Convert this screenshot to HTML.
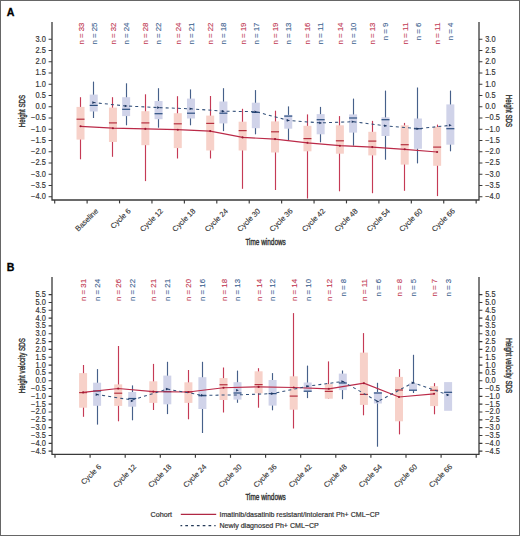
<!DOCTYPE html>
<html><head><meta charset="utf-8"><style>
html,body{margin:0;padding:0;background:#fff;}
body{width:520px;height:536px;overflow:hidden;}
svg{display:block;font-family:"Liberation Sans",sans-serif;}
.tk{font-size:7.45px;fill:#333333;stroke:#333333;stroke-width:0.15px;}
.xl{font-size:7.5px;fill:#333333;stroke:#333333;stroke-width:0.12px;}
.nl{font-size:7px;stroke-width:0.12px;}
.at{font-size:9.2px;fill:#333333;stroke:#333333;stroke-width:0.4px;}
.lg{font-size:7.2px;fill:#333333;stroke:#333333;stroke-width:0.2px;}
</style></head><body>
<svg width="520" height="536" viewBox="0 0 520 536">
<rect x="0" y="0" width="520" height="536" fill="#fff"/>
<text x="6.8" y="15.9" font-size="10.6" font-weight="bold" fill="#000" stroke="#000" stroke-width="0.3">A</text>
<path d="M52,22.0 V200 H479 V22.0" fill="none" stroke="#3a3a3a" stroke-width="1.3"/>
<path d="M48.6,39.20 H52 M479,39.20 H482.4" stroke="#3a3a3a" stroke-width="1.15"/>
<text transform="translate(45.8,41.65) scale(1,1.1)" text-anchor="end" class="tk">3.0</text>
<text transform="translate(485.2,41.65) scale(1,1.1)" class="tk">3.0</text>
<path d="M48.6,50.45 H52 M479,50.45 H482.4" stroke="#3a3a3a" stroke-width="1.15"/>
<text transform="translate(45.8,52.90) scale(1,1.1)" text-anchor="end" class="tk">2.5</text>
<text transform="translate(485.2,52.90) scale(1,1.1)" class="tk">2.5</text>
<path d="M48.6,61.70 H52 M479,61.70 H482.4" stroke="#3a3a3a" stroke-width="1.15"/>
<text transform="translate(45.8,64.15) scale(1,1.1)" text-anchor="end" class="tk">2.0</text>
<text transform="translate(485.2,64.15) scale(1,1.1)" class="tk">2.0</text>
<path d="M48.6,72.95 H52 M479,72.95 H482.4" stroke="#3a3a3a" stroke-width="1.15"/>
<text transform="translate(45.8,75.40) scale(1,1.1)" text-anchor="end" class="tk">1.5</text>
<text transform="translate(485.2,75.40) scale(1,1.1)" class="tk">1.5</text>
<path d="M48.6,84.20 H52 M479,84.20 H482.4" stroke="#3a3a3a" stroke-width="1.15"/>
<text transform="translate(45.8,86.65) scale(1,1.1)" text-anchor="end" class="tk">1.0</text>
<text transform="translate(485.2,86.65) scale(1,1.1)" class="tk">1.0</text>
<path d="M48.6,95.45 H52 M479,95.45 H482.4" stroke="#3a3a3a" stroke-width="1.15"/>
<text transform="translate(45.8,97.90) scale(1,1.1)" text-anchor="end" class="tk">0.5</text>
<text transform="translate(485.2,97.90) scale(1,1.1)" class="tk">0.5</text>
<path d="M48.6,106.70 H52 M479,106.70 H482.4" stroke="#3a3a3a" stroke-width="1.15"/>
<text transform="translate(45.8,109.15) scale(1,1.1)" text-anchor="end" class="tk">0.0</text>
<text transform="translate(485.2,109.15) scale(1,1.1)" class="tk">0.0</text>
<path d="M48.6,117.95 H52 M479,117.95 H482.4" stroke="#3a3a3a" stroke-width="1.15"/>
<text transform="translate(45.8,120.40) scale(1,1.1)" text-anchor="end" class="tk">−0.5</text>
<text transform="translate(485.2,120.40) scale(1,1.1)" class="tk">−0.5</text>
<path d="M48.6,129.20 H52 M479,129.20 H482.4" stroke="#3a3a3a" stroke-width="1.15"/>
<text transform="translate(45.8,131.65) scale(1,1.1)" text-anchor="end" class="tk">−1.0</text>
<text transform="translate(485.2,131.65) scale(1,1.1)" class="tk">−1.0</text>
<path d="M48.6,140.45 H52 M479,140.45 H482.4" stroke="#3a3a3a" stroke-width="1.15"/>
<text transform="translate(45.8,142.90) scale(1,1.1)" text-anchor="end" class="tk">−1.5</text>
<text transform="translate(485.2,142.90) scale(1,1.1)" class="tk">−1.5</text>
<path d="M48.6,151.70 H52 M479,151.70 H482.4" stroke="#3a3a3a" stroke-width="1.15"/>
<text transform="translate(45.8,154.15) scale(1,1.1)" text-anchor="end" class="tk">−2.0</text>
<text transform="translate(485.2,154.15) scale(1,1.1)" class="tk">−2.0</text>
<path d="M48.6,162.95 H52 M479,162.95 H482.4" stroke="#3a3a3a" stroke-width="1.15"/>
<text transform="translate(45.8,165.40) scale(1,1.1)" text-anchor="end" class="tk">−2.5</text>
<text transform="translate(485.2,165.40) scale(1,1.1)" class="tk">−2.5</text>
<path d="M48.6,174.20 H52 M479,174.20 H482.4" stroke="#3a3a3a" stroke-width="1.15"/>
<text transform="translate(45.8,176.65) scale(1,1.1)" text-anchor="end" class="tk">−3.0</text>
<text transform="translate(485.2,176.65) scale(1,1.1)" class="tk">−3.0</text>
<path d="M48.6,185.45 H52 M479,185.45 H482.4" stroke="#3a3a3a" stroke-width="1.15"/>
<text transform="translate(45.8,187.90) scale(1,1.1)" text-anchor="end" class="tk">−3.5</text>
<text transform="translate(485.2,187.90) scale(1,1.1)" class="tk">−3.5</text>
<path d="M48.6,196.70 H52 M479,196.70 H482.4" stroke="#3a3a3a" stroke-width="1.15"/>
<text transform="translate(45.8,199.15) scale(1,1.1)" text-anchor="end" class="tk">−4.0</text>
<text transform="translate(485.2,199.15) scale(1,1.1)" class="tk">−4.0</text>
<path d="M54.70,200 V203.4" stroke="#3a3a3a" stroke-width="1.15"/>
<path d="M87.12,200 V203.4" stroke="#3a3a3a" stroke-width="1.15"/>
<path d="M119.54,200 V203.4" stroke="#3a3a3a" stroke-width="1.15"/>
<path d="M151.96,200 V203.4" stroke="#3a3a3a" stroke-width="1.15"/>
<path d="M184.38,200 V203.4" stroke="#3a3a3a" stroke-width="1.15"/>
<path d="M216.80,200 V203.4" stroke="#3a3a3a" stroke-width="1.15"/>
<path d="M249.22,200 V203.4" stroke="#3a3a3a" stroke-width="1.15"/>
<path d="M281.64,200 V203.4" stroke="#3a3a3a" stroke-width="1.15"/>
<path d="M314.06,200 V203.4" stroke="#3a3a3a" stroke-width="1.15"/>
<path d="M346.48,200 V203.4" stroke="#3a3a3a" stroke-width="1.15"/>
<path d="M378.90,200 V203.4" stroke="#3a3a3a" stroke-width="1.15"/>
<path d="M411.32,200 V203.4" stroke="#3a3a3a" stroke-width="1.15"/>
<path d="M443.74,200 V203.4" stroke="#3a3a3a" stroke-width="1.15"/>
<path d="M476.16,200 V203.4" stroke="#3a3a3a" stroke-width="1.15"/>
<text transform="translate(98.72,211.5) rotate(-45)" text-anchor="end" class="xl">Baseline</text>
<text transform="translate(131.14,211.5) rotate(-45)" text-anchor="end" class="xl">Cycle 6</text>
<text transform="translate(163.56,211.5) rotate(-45)" text-anchor="end" class="xl">Cycle 12</text>
<text transform="translate(195.98,211.5) rotate(-45)" text-anchor="end" class="xl">Cycle 18</text>
<text transform="translate(228.40,211.5) rotate(-45)" text-anchor="end" class="xl">Cycle 24</text>
<text transform="translate(260.82,211.5) rotate(-45)" text-anchor="end" class="xl">Cycle 30</text>
<text transform="translate(293.24,211.5) rotate(-45)" text-anchor="end" class="xl">Cycle 36</text>
<text transform="translate(325.66,211.5) rotate(-45)" text-anchor="end" class="xl">Cycle 42</text>
<text transform="translate(358.08,211.5) rotate(-45)" text-anchor="end" class="xl">Cycle 48</text>
<text transform="translate(390.50,211.5) rotate(-45)" text-anchor="end" class="xl">Cycle 54</text>
<text transform="translate(422.92,211.5) rotate(-45)" text-anchor="end" class="xl">Cycle 60</text>
<text transform="translate(455.34,211.5) rotate(-45)" text-anchor="end" class="xl">Cycle 66</text>
<path d="M80.50,97.2 V159.3" stroke="#c53a55" stroke-width="1.15"/>
<rect x="76.52" y="106.9" width="8.0" height="32.70" fill="#f7d1c9"/>
<path d="M76.52,119.2 h8.0" stroke="#b5303f" stroke-width="1.2"/>
<path d="M93.50,81.6 V118.0" stroke="#46608a" stroke-width="1.15"/>
<rect x="89.72" y="94.6" width="8.0" height="16.90" fill="#d0d3e9"/>
<path d="M89.72,105.4 h8.0" stroke="#2c4f80" stroke-width="1.2"/>
<path d="M112.50,97.2 V156.8" stroke="#c53a55" stroke-width="1.15"/>
<rect x="108.94" y="107.6" width="8.0" height="34.40" fill="#f7d1c9"/>
<path d="M108.94,122.9 h8.0" stroke="#b5303f" stroke-width="1.2"/>
<path d="M126.50,83.3 V125.3" stroke="#46608a" stroke-width="1.15"/>
<rect x="122.14" y="97.2" width="8.0" height="18.90" fill="#d0d3e9"/>
<path d="M122.14,109.3 h8.0" stroke="#2c4f80" stroke-width="1.2"/>
<path d="M145.50,94.3 V181.1" stroke="#c53a55" stroke-width="1.15"/>
<rect x="141.36" y="111.2" width="8.0" height="34.00" fill="#f7d1c9"/>
<path d="M141.36,122.9 h8.0" stroke="#b5303f" stroke-width="1.2"/>
<path d="M158.50,88.2 V127.7" stroke="#46608a" stroke-width="1.15"/>
<rect x="154.56" y="101.0" width="8.0" height="18.20" fill="#d0d3e9"/>
<path d="M154.56,113.7 h8.0" stroke="#2c4f80" stroke-width="1.2"/>
<path d="M177.50,96.2 V158.5" stroke="#c53a55" stroke-width="1.15"/>
<rect x="173.78" y="113.2" width="8.0" height="34.90" fill="#f7d1c9"/>
<path d="M173.78,123.8 h8.0" stroke="#b5303f" stroke-width="1.2"/>
<path d="M190.50,89.4 V125.3" stroke="#46608a" stroke-width="1.15"/>
<rect x="186.98" y="98.6" width="8.0" height="19.90" fill="#d0d3e9"/>
<path d="M186.98,113.2 h8.0" stroke="#2c4f80" stroke-width="1.2"/>
<path d="M210.50,96.0 V158.5" stroke="#c53a55" stroke-width="1.15"/>
<rect x="206.20" y="115.6" width="8.0" height="34.90" fill="#f7d1c9"/>
<path d="M206.20,123.4 h8.0" stroke="#b5303f" stroke-width="1.2"/>
<path d="M223.50,88.2 V131.1" stroke="#46608a" stroke-width="1.15"/>
<rect x="219.40" y="101.5" width="8.0" height="21.90" fill="#d0d3e9"/>
<path d="M219.40,113.2 h8.0" stroke="#2c4f80" stroke-width="1.2"/>
<path d="M242.50,108.8 V188.8" stroke="#c53a55" stroke-width="1.15"/>
<rect x="238.62" y="121.7" width="8.0" height="28.80" fill="#f7d1c9"/>
<path d="M238.62,130.6 h8.0" stroke="#b5303f" stroke-width="1.2"/>
<path d="M255.50,90.1 V134.3" stroke="#46608a" stroke-width="1.15"/>
<rect x="251.82" y="102.7" width="8.0" height="25.50" fill="#d0d3e9"/>
<path d="M251.82,112.4 h8.0" stroke="#2c4f80" stroke-width="1.2"/>
<path d="M275.50,110.7 V190.0" stroke="#c53a55" stroke-width="1.15"/>
<rect x="271.04" y="121.4" width="8.0" height="31.10" fill="#f7d1c9"/>
<path d="M271.04,131.8 h8.0" stroke="#b5303f" stroke-width="1.2"/>
<path d="M288.50,106.4 V140.3" stroke="#46608a" stroke-width="1.15"/>
<rect x="284.24" y="114.9" width="8.0" height="13.80" fill="#d0d3e9"/>
<path d="M284.24,116.1 h8.0" stroke="#2c4f80" stroke-width="1.2"/>
<path d="M307.50,114.4 V198.5" stroke="#c53a55" stroke-width="1.15"/>
<rect x="303.46" y="125.8" width="8.0" height="25.50" fill="#f7d1c9"/>
<path d="M303.46,138.6 h8.0" stroke="#b5303f" stroke-width="1.2"/>
<path d="M320.50,106.9 V142.3" stroke="#46608a" stroke-width="1.15"/>
<rect x="316.66" y="114.1" width="8.0" height="20.20" fill="#d0d3e9"/>
<path d="M316.66,119.7 h8.0" stroke="#2c4f80" stroke-width="1.2"/>
<path d="M339.50,116.1 V191.3" stroke="#c53a55" stroke-width="1.15"/>
<rect x="335.88" y="125.3" width="8.0" height="28.40" fill="#f7d1c9"/>
<path d="M335.88,140.8 h8.0" stroke="#b5303f" stroke-width="1.2"/>
<path d="M353.50,98.6 V145.7" stroke="#46608a" stroke-width="1.15"/>
<rect x="349.08" y="114.4" width="8.0" height="18.20" fill="#d0d3e9"/>
<path d="M349.08,118.0 h8.0" stroke="#2c4f80" stroke-width="1.2"/>
<path d="M372.50,120.9 V193.2" stroke="#c53a55" stroke-width="1.15"/>
<rect x="368.30" y="131.8" width="8.0" height="23.60" fill="#f7d1c9"/>
<path d="M368.30,141.1 h8.0" stroke="#b5303f" stroke-width="1.2"/>
<path d="M385.50,90.6 V159.7" stroke="#46608a" stroke-width="1.15"/>
<rect x="381.50" y="117.3" width="8.0" height="18.70" fill="#d0d3e9"/>
<path d="M381.50,119.7 h8.0" stroke="#2c4f80" stroke-width="1.2"/>
<path d="M404.50,122.9 V190.8" stroke="#c53a55" stroke-width="1.15"/>
<rect x="400.72" y="125.3" width="8.0" height="39.30" fill="#f7d1c9"/>
<path d="M400.72,144.7 h8.0" stroke="#b5303f" stroke-width="1.2"/>
<path d="M417.50,87.5 V163.4" stroke="#46608a" stroke-width="1.15"/>
<rect x="413.92" y="118.5" width="8.0" height="30.30" fill="#d0d3e9"/>
<path d="M413.92,128.7 h8.0" stroke="#2c4f80" stroke-width="1.2"/>
<path d="M437.50,124.6 V196.1" stroke="#c53a55" stroke-width="1.15"/>
<rect x="433.14" y="127.0" width="8.0" height="38.80" fill="#f7d1c9"/>
<path d="M433.14,147.1 h8.0" stroke="#b5303f" stroke-width="1.2"/>
<path d="M450.50,90.6 V151.3" stroke="#46608a" stroke-width="1.15"/>
<rect x="446.34" y="104.4" width="8.0" height="40.30" fill="#d0d3e9"/>
<path d="M446.34,128.7 h8.0" stroke="#2c4f80" stroke-width="1.2"/>
<polyline points="80.52,126.30 112.94,128.20 145.36,128.90 177.78,129.70 210.20,131.10 242.62,137.40 275.04,139.10 307.46,142.80 339.88,145.70 372.30,147.10 404.72,149.30 437.14,152.00" fill="none" stroke="#bb2a48" stroke-width="1.2"/>
<polyline points="93.72,102.60 126.14,106.00 158.56,107.60 190.98,108.80 223.40,111.20 255.82,111.70 288.24,120.40 320.66,122.90 353.08,121.70 385.50,125.80 417.92,128.70 450.34,125.30" fill="none" stroke="#33507a" stroke-width="1.05" stroke-dasharray="3 3.1" stroke-dashoffset="1"/>
<circle cx="80.52" cy="126.3" r="1.05" fill="#a01830"/>
<circle cx="112.94" cy="128.2" r="1.05" fill="#a01830"/>
<circle cx="145.36" cy="128.9" r="1.05" fill="#a01830"/>
<circle cx="177.78" cy="129.7" r="1.05" fill="#a01830"/>
<circle cx="210.20" cy="131.1" r="1.05" fill="#a01830"/>
<circle cx="242.62" cy="137.4" r="1.05" fill="#a01830"/>
<circle cx="275.04" cy="139.1" r="1.05" fill="#a01830"/>
<circle cx="307.46" cy="142.8" r="1.05" fill="#a01830"/>
<circle cx="339.88" cy="145.7" r="1.05" fill="#a01830"/>
<circle cx="372.30" cy="147.1" r="1.05" fill="#a01830"/>
<circle cx="404.72" cy="149.3" r="1.05" fill="#a01830"/>
<circle cx="437.14" cy="152.0" r="1.05" fill="#a01830"/>
<path d="M92.32,101.30 l2.8,1.3 l-2.8,1.3z" fill="#1c3560"/>
<path d="M124.74,104.70 l2.8,1.3 l-2.8,1.3z" fill="#1c3560"/>
<path d="M157.16,106.30 l2.8,1.3 l-2.8,1.3z" fill="#1c3560"/>
<path d="M189.58,107.50 l2.8,1.3 l-2.8,1.3z" fill="#1c3560"/>
<path d="M222.00,109.90 l2.8,1.3 l-2.8,1.3z" fill="#1c3560"/>
<path d="M254.42,110.40 l2.8,1.3 l-2.8,1.3z" fill="#1c3560"/>
<path d="M286.84,119.10 l2.8,1.3 l-2.8,1.3z" fill="#1c3560"/>
<path d="M319.26,121.60 l2.8,1.3 l-2.8,1.3z" fill="#1c3560"/>
<path d="M351.68,120.40 l2.8,1.3 l-2.8,1.3z" fill="#1c3560"/>
<path d="M384.10,124.50 l2.8,1.3 l-2.8,1.3z" fill="#1c3560"/>
<path d="M416.52,127.40 l2.8,1.3 l-2.8,1.3z" fill="#1c3560"/>
<path d="M448.94,124.00 l2.8,1.3 l-2.8,1.3z" fill="#1c3560"/>
<text transform="translate(83.52,22.6) rotate(-90)" text-anchor="end" class="nl" fill="#c23a55" stroke="#c23a55" textLength="22.0" lengthAdjust="spacingAndGlyphs">n = 33</text>
<text transform="translate(96.52,22.6) rotate(-90)" text-anchor="end" class="nl" fill="#3f6491" stroke="#3f6491" textLength="22.0" lengthAdjust="spacingAndGlyphs">n = 25</text>
<text transform="translate(115.94,22.6) rotate(-90)" text-anchor="end" class="nl" fill="#c23a55" stroke="#c23a55" textLength="22.0" lengthAdjust="spacingAndGlyphs">n = 32</text>
<text transform="translate(128.94,22.6) rotate(-90)" text-anchor="end" class="nl" fill="#3f6491" stroke="#3f6491" textLength="22.0" lengthAdjust="spacingAndGlyphs">n = 24</text>
<text transform="translate(148.36,22.6) rotate(-90)" text-anchor="end" class="nl" fill="#c23a55" stroke="#c23a55" textLength="22.0" lengthAdjust="spacingAndGlyphs">n = 28</text>
<text transform="translate(161.36,22.6) rotate(-90)" text-anchor="end" class="nl" fill="#3f6491" stroke="#3f6491" textLength="22.0" lengthAdjust="spacingAndGlyphs">n = 22</text>
<text transform="translate(180.78,22.6) rotate(-90)" text-anchor="end" class="nl" fill="#c23a55" stroke="#c23a55" textLength="22.0" lengthAdjust="spacingAndGlyphs">n = 24</text>
<text transform="translate(193.78,22.6) rotate(-90)" text-anchor="end" class="nl" fill="#3f6491" stroke="#3f6491" textLength="22.0" lengthAdjust="spacingAndGlyphs">n = 21</text>
<text transform="translate(213.20,22.6) rotate(-90)" text-anchor="end" class="nl" fill="#c23a55" stroke="#c23a55" textLength="22.0" lengthAdjust="spacingAndGlyphs">n = 22</text>
<text transform="translate(226.20,22.6) rotate(-90)" text-anchor="end" class="nl" fill="#3f6491" stroke="#3f6491" textLength="22.0" lengthAdjust="spacingAndGlyphs">n = 18</text>
<text transform="translate(245.62,22.6) rotate(-90)" text-anchor="end" class="nl" fill="#c23a55" stroke="#c23a55" textLength="22.0" lengthAdjust="spacingAndGlyphs">n = 19</text>
<text transform="translate(258.62,22.6) rotate(-90)" text-anchor="end" class="nl" fill="#3f6491" stroke="#3f6491" textLength="22.0" lengthAdjust="spacingAndGlyphs">n = 17</text>
<text transform="translate(278.04,22.6) rotate(-90)" text-anchor="end" class="nl" fill="#c23a55" stroke="#c23a55" textLength="22.0" lengthAdjust="spacingAndGlyphs">n = 19</text>
<text transform="translate(291.04,22.6) rotate(-90)" text-anchor="end" class="nl" fill="#3f6491" stroke="#3f6491" textLength="22.0" lengthAdjust="spacingAndGlyphs">n = 13</text>
<text transform="translate(310.46,22.6) rotate(-90)" text-anchor="end" class="nl" fill="#c23a55" stroke="#c23a55" textLength="22.0" lengthAdjust="spacingAndGlyphs">n = 16</text>
<text transform="translate(323.46,22.6) rotate(-90)" text-anchor="end" class="nl" fill="#3f6491" stroke="#3f6491" textLength="22.0" lengthAdjust="spacingAndGlyphs">n = 11</text>
<text transform="translate(342.88,22.6) rotate(-90)" text-anchor="end" class="nl" fill="#c23a55" stroke="#c23a55" textLength="22.0" lengthAdjust="spacingAndGlyphs">n = 14</text>
<text transform="translate(355.88,22.6) rotate(-90)" text-anchor="end" class="nl" fill="#3f6491" stroke="#3f6491" textLength="22.0" lengthAdjust="spacingAndGlyphs">n = 10</text>
<text transform="translate(375.30,22.6) rotate(-90)" text-anchor="end" class="nl" fill="#c23a55" stroke="#c23a55" textLength="22.0" lengthAdjust="spacingAndGlyphs">n = 13</text>
<text transform="translate(388.30,22.6) rotate(-90)" text-anchor="end" class="nl" fill="#3f6491" stroke="#3f6491" textLength="17.6" lengthAdjust="spacingAndGlyphs">n = 9</text>
<text transform="translate(407.72,22.6) rotate(-90)" text-anchor="end" class="nl" fill="#c23a55" stroke="#c23a55" textLength="22.0" lengthAdjust="spacingAndGlyphs">n = 11</text>
<text transform="translate(420.72,22.6) rotate(-90)" text-anchor="end" class="nl" fill="#3f6491" stroke="#3f6491" textLength="17.6" lengthAdjust="spacingAndGlyphs">n = 6</text>
<text transform="translate(440.14,22.6) rotate(-90)" text-anchor="end" class="nl" fill="#c23a55" stroke="#c23a55" textLength="22.0" lengthAdjust="spacingAndGlyphs">n = 11</text>
<text transform="translate(453.14,22.6) rotate(-90)" text-anchor="end" class="nl" fill="#3f6491" stroke="#3f6491" textLength="17.6" lengthAdjust="spacingAndGlyphs">n = 4</text>
<text transform="translate(25.3,111.00) rotate(-90)" text-anchor="middle" class="at" textLength="32.3" lengthAdjust="spacingAndGlyphs">Height SDS</text>
<text transform="translate(505.6,111.00) rotate(90)" text-anchor="middle" class="at" textLength="32.3" lengthAdjust="spacingAndGlyphs">Height SDS</text>
<text x="265.6" y="244.7" text-anchor="middle" class="at" textLength="40.4" lengthAdjust="spacingAndGlyphs">Time windows</text>
<text x="6.8" y="271.3" font-size="10.6" font-weight="bold" fill="#000" stroke="#000" stroke-width="0.3">B</text>
<path d="M52,277.0 V454.4 H479 V277.0" fill="none" stroke="#3a3a3a" stroke-width="1.3"/>
<path d="M48.6,294.62 H52 M479,294.62 H482.4" stroke="#3a3a3a" stroke-width="1.15"/>
<text transform="translate(45.8,297.07) scale(1,1.1)" text-anchor="end" class="tk">5.5</text>
<text transform="translate(485.2,297.07) scale(1,1.1)" class="tk">5.5</text>
<path d="M48.6,302.45 H52 M479,302.45 H482.4" stroke="#3a3a3a" stroke-width="1.15"/>
<text transform="translate(45.8,304.90) scale(1,1.1)" text-anchor="end" class="tk">5.0</text>
<text transform="translate(485.2,304.90) scale(1,1.1)" class="tk">5.0</text>
<path d="M48.6,310.27 H52 M479,310.27 H482.4" stroke="#3a3a3a" stroke-width="1.15"/>
<text transform="translate(45.8,312.72) scale(1,1.1)" text-anchor="end" class="tk">4.5</text>
<text transform="translate(485.2,312.72) scale(1,1.1)" class="tk">4.5</text>
<path d="M48.6,318.10 H52 M479,318.10 H482.4" stroke="#3a3a3a" stroke-width="1.15"/>
<text transform="translate(45.8,320.55) scale(1,1.1)" text-anchor="end" class="tk">4.0</text>
<text transform="translate(485.2,320.55) scale(1,1.1)" class="tk">4.0</text>
<path d="M48.6,325.93 H52 M479,325.93 H482.4" stroke="#3a3a3a" stroke-width="1.15"/>
<text transform="translate(45.8,328.38) scale(1,1.1)" text-anchor="end" class="tk">3.5</text>
<text transform="translate(485.2,328.38) scale(1,1.1)" class="tk">3.5</text>
<path d="M48.6,333.75 H52 M479,333.75 H482.4" stroke="#3a3a3a" stroke-width="1.15"/>
<text transform="translate(45.8,336.20) scale(1,1.1)" text-anchor="end" class="tk">3.0</text>
<text transform="translate(485.2,336.20) scale(1,1.1)" class="tk">3.0</text>
<path d="M48.6,341.57 H52 M479,341.57 H482.4" stroke="#3a3a3a" stroke-width="1.15"/>
<text transform="translate(45.8,344.02) scale(1,1.1)" text-anchor="end" class="tk">2.5</text>
<text transform="translate(485.2,344.02) scale(1,1.1)" class="tk">2.5</text>
<path d="M48.6,349.40 H52 M479,349.40 H482.4" stroke="#3a3a3a" stroke-width="1.15"/>
<text transform="translate(45.8,351.85) scale(1,1.1)" text-anchor="end" class="tk">2.0</text>
<text transform="translate(485.2,351.85) scale(1,1.1)" class="tk">2.0</text>
<path d="M48.6,357.22 H52 M479,357.22 H482.4" stroke="#3a3a3a" stroke-width="1.15"/>
<text transform="translate(45.8,359.67) scale(1,1.1)" text-anchor="end" class="tk">1.5</text>
<text transform="translate(485.2,359.67) scale(1,1.1)" class="tk">1.5</text>
<path d="M48.6,365.05 H52 M479,365.05 H482.4" stroke="#3a3a3a" stroke-width="1.15"/>
<text transform="translate(45.8,367.50) scale(1,1.1)" text-anchor="end" class="tk">1.0</text>
<text transform="translate(485.2,367.50) scale(1,1.1)" class="tk">1.0</text>
<path d="M48.6,372.88 H52 M479,372.88 H482.4" stroke="#3a3a3a" stroke-width="1.15"/>
<text transform="translate(45.8,375.32) scale(1,1.1)" text-anchor="end" class="tk">0.5</text>
<text transform="translate(485.2,375.32) scale(1,1.1)" class="tk">0.5</text>
<path d="M48.6,380.70 H52 M479,380.70 H482.4" stroke="#3a3a3a" stroke-width="1.15"/>
<text transform="translate(45.8,383.15) scale(1,1.1)" text-anchor="end" class="tk">0.0</text>
<text transform="translate(485.2,383.15) scale(1,1.1)" class="tk">0.0</text>
<path d="M48.6,388.52 H52 M479,388.52 H482.4" stroke="#3a3a3a" stroke-width="1.15"/>
<text transform="translate(45.8,390.97) scale(1,1.1)" text-anchor="end" class="tk">−0.5</text>
<text transform="translate(485.2,390.97) scale(1,1.1)" class="tk">−0.5</text>
<path d="M48.6,396.35 H52 M479,396.35 H482.4" stroke="#3a3a3a" stroke-width="1.15"/>
<text transform="translate(45.8,398.80) scale(1,1.1)" text-anchor="end" class="tk">−1.0</text>
<text transform="translate(485.2,398.80) scale(1,1.1)" class="tk">−1.0</text>
<path d="M48.6,404.18 H52 M479,404.18 H482.4" stroke="#3a3a3a" stroke-width="1.15"/>
<text transform="translate(45.8,406.62) scale(1,1.1)" text-anchor="end" class="tk">−1.5</text>
<text transform="translate(485.2,406.62) scale(1,1.1)" class="tk">−1.5</text>
<path d="M48.6,412.00 H52 M479,412.00 H482.4" stroke="#3a3a3a" stroke-width="1.15"/>
<text transform="translate(45.8,414.45) scale(1,1.1)" text-anchor="end" class="tk">−2.0</text>
<text transform="translate(485.2,414.45) scale(1,1.1)" class="tk">−2.0</text>
<path d="M48.6,419.82 H52 M479,419.82 H482.4" stroke="#3a3a3a" stroke-width="1.15"/>
<text transform="translate(45.8,422.27) scale(1,1.1)" text-anchor="end" class="tk">−2.5</text>
<text transform="translate(485.2,422.27) scale(1,1.1)" class="tk">−2.5</text>
<path d="M48.6,427.65 H52 M479,427.65 H482.4" stroke="#3a3a3a" stroke-width="1.15"/>
<text transform="translate(45.8,430.10) scale(1,1.1)" text-anchor="end" class="tk">−3.0</text>
<text transform="translate(485.2,430.10) scale(1,1.1)" class="tk">−3.0</text>
<path d="M48.6,435.47 H52 M479,435.47 H482.4" stroke="#3a3a3a" stroke-width="1.15"/>
<text transform="translate(45.8,437.92) scale(1,1.1)" text-anchor="end" class="tk">−3.5</text>
<text transform="translate(485.2,437.92) scale(1,1.1)" class="tk">−3.5</text>
<path d="M48.6,443.30 H52 M479,443.30 H482.4" stroke="#3a3a3a" stroke-width="1.15"/>
<text transform="translate(45.8,445.75) scale(1,1.1)" text-anchor="end" class="tk">−4.0</text>
<text transform="translate(485.2,445.75) scale(1,1.1)" class="tk">−4.0</text>
<path d="M48.6,451.12 H52 M479,451.12 H482.4" stroke="#3a3a3a" stroke-width="1.15"/>
<text transform="translate(45.8,453.57) scale(1,1.1)" text-anchor="end" class="tk">−4.5</text>
<text transform="translate(485.2,453.57) scale(1,1.1)" class="tk">−4.5</text>
<path d="M55.00,454.4 V457.79999999999995" stroke="#3a3a3a" stroke-width="1.15"/>
<path d="M90.10,454.4 V457.79999999999995" stroke="#3a3a3a" stroke-width="1.15"/>
<path d="M125.20,454.4 V457.79999999999995" stroke="#3a3a3a" stroke-width="1.15"/>
<path d="M160.30,454.4 V457.79999999999995" stroke="#3a3a3a" stroke-width="1.15"/>
<path d="M195.40,454.4 V457.79999999999995" stroke="#3a3a3a" stroke-width="1.15"/>
<path d="M230.50,454.4 V457.79999999999995" stroke="#3a3a3a" stroke-width="1.15"/>
<path d="M265.60,454.4 V457.79999999999995" stroke="#3a3a3a" stroke-width="1.15"/>
<path d="M300.70,454.4 V457.79999999999995" stroke="#3a3a3a" stroke-width="1.15"/>
<path d="M335.80,454.4 V457.79999999999995" stroke="#3a3a3a" stroke-width="1.15"/>
<path d="M370.90,454.4 V457.79999999999995" stroke="#3a3a3a" stroke-width="1.15"/>
<path d="M406.00,454.4 V457.79999999999995" stroke="#3a3a3a" stroke-width="1.15"/>
<path d="M441.10,454.4 V457.79999999999995" stroke="#3a3a3a" stroke-width="1.15"/>
<path d="M476.20,454.4 V457.79999999999995" stroke="#3a3a3a" stroke-width="1.15"/>
<text transform="translate(101.70,467.3) rotate(-45)" text-anchor="end" class="xl">Cycle 6</text>
<text transform="translate(136.80,467.3) rotate(-45)" text-anchor="end" class="xl">Cycle 12</text>
<text transform="translate(171.90,467.3) rotate(-45)" text-anchor="end" class="xl">Cycle 18</text>
<text transform="translate(207.00,467.3) rotate(-45)" text-anchor="end" class="xl">Cycle 24</text>
<text transform="translate(242.10,467.3) rotate(-45)" text-anchor="end" class="xl">Cycle 30</text>
<text transform="translate(277.20,467.3) rotate(-45)" text-anchor="end" class="xl">Cycle 36</text>
<text transform="translate(312.30,467.3) rotate(-45)" text-anchor="end" class="xl">Cycle 42</text>
<text transform="translate(347.40,467.3) rotate(-45)" text-anchor="end" class="xl">Cycle 48</text>
<text transform="translate(382.50,467.3) rotate(-45)" text-anchor="end" class="xl">Cycle 54</text>
<text transform="translate(417.60,467.3) rotate(-45)" text-anchor="end" class="xl">Cycle 60</text>
<text transform="translate(452.70,467.3) rotate(-45)" text-anchor="end" class="xl">Cycle 66</text>
<path d="M83.50,365.0 V416.8" stroke="#c53a55" stroke-width="1.15"/>
<rect x="79.10" y="373.1" width="8.0" height="34.60" fill="#f7d1c9"/>
<path d="M79.10,392.6 h8.0" stroke="#b5303f" stroke-width="1.2"/>
<path d="M97.50,369.1 V424.6" stroke="#46608a" stroke-width="1.15"/>
<rect x="93.10" y="382.7" width="8.0" height="23.10" fill="#d0d3e9"/>
<path d="M93.10,391.0 h8.0" stroke="#2c4f80" stroke-width="1.2"/>
<path d="M118.50,346.0 V421.3" stroke="#c53a55" stroke-width="1.15"/>
<rect x="114.20" y="384.4" width="8.0" height="21.50" fill="#f7d1c9"/>
<path d="M114.20,393.2 h8.0" stroke="#b5303f" stroke-width="1.2"/>
<path d="M132.50,385.4 V420.3" stroke="#46608a" stroke-width="1.15"/>
<rect x="128.20" y="392.0" width="8.0" height="14.70" fill="#d0d3e9"/>
<path d="M128.20,398.5 h8.0" stroke="#2c4f80" stroke-width="1.2"/>
<path d="M153.50,363.9 V410.0" stroke="#c53a55" stroke-width="1.15"/>
<rect x="149.30" y="381.3" width="8.0" height="21.60" fill="#f7d1c9"/>
<path d="M149.30,391.6 h8.0" stroke="#b5303f" stroke-width="1.2"/>
<path d="M167.50,361.8 V414.1" stroke="#46608a" stroke-width="1.15"/>
<rect x="163.30" y="375.6" width="8.0" height="28.70" fill="#d0d3e9"/>
<path d="M163.30,391.6 h8.0" stroke="#2c4f80" stroke-width="1.2"/>
<path d="M188.50,370.0 V419.3" stroke="#c53a55" stroke-width="1.15"/>
<rect x="184.40" y="382.3" width="8.0" height="20.60" fill="#f7d1c9"/>
<path d="M184.40,392.0 h8.0" stroke="#b5303f" stroke-width="1.2"/>
<path d="M202.50,361.8 V433.0" stroke="#46608a" stroke-width="1.15"/>
<rect x="198.40" y="377.2" width="8.0" height="31.80" fill="#d0d3e9"/>
<path d="M198.40,395.7 h8.0" stroke="#2c4f80" stroke-width="1.2"/>
<path d="M223.50,367.5 V412.5" stroke="#c53a55" stroke-width="1.15"/>
<rect x="219.50" y="378.1" width="8.0" height="21.90" fill="#f7d1c9"/>
<path d="M219.50,384.75 h8.0" stroke="#b5303f" stroke-width="1.2"/>
<path d="M237.50,370.6 V402.8" stroke="#46608a" stroke-width="1.15"/>
<rect x="233.50" y="382.2" width="8.0" height="17.40" fill="#d0d3e9"/>
<path d="M233.50,393.0 h8.0" stroke="#2c4f80" stroke-width="1.2"/>
<path d="M258.50,368.2 V407.7" stroke="#c53a55" stroke-width="1.15"/>
<rect x="254.60" y="371.3" width="8.0" height="22.00" fill="#f7d1c9"/>
<path d="M254.60,384.6 h8.0" stroke="#b5303f" stroke-width="1.2"/>
<path d="M272.50,373.1 V410.3" stroke="#46608a" stroke-width="1.15"/>
<rect x="268.60" y="380.0" width="8.0" height="25.60" fill="#d0d3e9"/>
<path d="M268.60,393.6 h8.0" stroke="#2c4f80" stroke-width="1.2"/>
<path d="M293.50,313.1 V428.5" stroke="#c53a55" stroke-width="1.15"/>
<rect x="289.70" y="376.3" width="8.0" height="33.40" fill="#f7d1c9"/>
<path d="M289.70,396.1 h8.0" stroke="#b5303f" stroke-width="1.2"/>
<path d="M307.50,365.6 V398.1" stroke="#46608a" stroke-width="1.15"/>
<rect x="303.70" y="382.5" width="8.0" height="9.40" fill="#d0d3e9"/>
<path d="M303.70,391.2 h8.0" stroke="#2c4f80" stroke-width="1.2"/>
<path d="M328.50,361.4 V398.7" stroke="#c53a55" stroke-width="1.15"/>
<rect x="324.80" y="384.1" width="8.0" height="14.60" fill="#f7d1c9"/>
<path d="M324.80,391.4 h8.0" stroke="#b5303f" stroke-width="1.2"/>
<path d="M342.50,370.5 V399.2" stroke="#46608a" stroke-width="1.15"/>
<rect x="338.80" y="373.6" width="8.0" height="16.50" fill="#d0d3e9"/>
<path d="M338.80,383.0 h8.0" stroke="#2c4f80" stroke-width="1.2"/>
<path d="M363.50,333.1 V415.3" stroke="#c53a55" stroke-width="1.15"/>
<rect x="359.90" y="352.6" width="8.0" height="52.30" fill="#f7d1c9"/>
<path d="M359.90,394.4 h8.0" stroke="#b5303f" stroke-width="1.2"/>
<path d="M377.50,382.8 V446.7" stroke="#46608a" stroke-width="1.15"/>
<rect x="373.90" y="392.0" width="8.0" height="11.50" fill="#d0d3e9"/>
<path d="M373.90,393.0 h8.0" stroke="#2c4f80" stroke-width="1.2"/>
<path d="M399.50,369.1 V434.4" stroke="#c53a55" stroke-width="1.15"/>
<rect x="395.00" y="376.9" width="8.0" height="44.40" fill="#f7d1c9"/>
<path d="M395.00,390.0 h8.0" stroke="#b5303f" stroke-width="1.2"/>
<path d="M413.50,354.8 V393.0" stroke="#46608a" stroke-width="1.15"/>
<rect x="409.00" y="383.3" width="8.0" height="7.30" fill="#d0d3e9"/>
<path d="M409.00,390.2 h8.0" stroke="#2c4f80" stroke-width="1.2"/>
<path d="M434.50,383.1 V414.3" stroke="#c53a55" stroke-width="1.15"/>
<rect x="430.10" y="386.2" width="8.0" height="19.90" fill="#f7d1c9"/>
<path d="M430.10,390.3 h8.0" stroke="#b5303f" stroke-width="1.2"/>
<rect x="444.10" y="382.1" width="8.0" height="28.70" fill="#d0d3e9"/>
<path d="M444.10,392.3 h8.0" stroke="#2c4f80" stroke-width="1.2"/>
<polyline points="83.10,392.40 118.20,388.50 153.30,391.60 188.40,392.00 223.50,387.75 258.60,386.90 293.70,387.50 328.80,388.80 363.90,383.20 399.00,397.00 434.10,393.80" fill="none" stroke="#bb2a48" stroke-width="1.2"/>
<polyline points="97.10,394.60 132.20,400.00 167.30,389.10 202.40,395.30 237.50,394.90 272.60,393.60 307.70,386.20 342.80,381.50 377.90,401.50 413.00,382.70 448.10,395.00" fill="none" stroke="#33507a" stroke-width="1.05" stroke-dasharray="3 3.1" stroke-dashoffset="1"/>
<circle cx="83.10" cy="392.4" r="1.05" fill="#a01830"/>
<circle cx="118.20" cy="388.5" r="1.05" fill="#a01830"/>
<circle cx="153.30" cy="391.6" r="1.05" fill="#a01830"/>
<circle cx="188.40" cy="392.0" r="1.05" fill="#a01830"/>
<circle cx="223.50" cy="387.75" r="1.05" fill="#a01830"/>
<circle cx="258.60" cy="386.9" r="1.05" fill="#a01830"/>
<circle cx="293.70" cy="387.5" r="1.05" fill="#a01830"/>
<circle cx="328.80" cy="388.8" r="1.05" fill="#a01830"/>
<circle cx="363.90" cy="383.2" r="1.05" fill="#a01830"/>
<circle cx="399.00" cy="397.0" r="1.05" fill="#a01830"/>
<circle cx="434.10" cy="393.8" r="1.05" fill="#a01830"/>
<path d="M95.70,393.30 l2.8,1.3 l-2.8,1.3z" fill="#1c3560"/>
<path d="M130.80,399.60 l2.8,1.3 l-2.8,1.3z" fill="#1c3560"/>
<path d="M165.90,387.80 l2.8,1.3 l-2.8,1.3z" fill="#1c3560"/>
<path d="M201.00,394.00 l2.8,1.3 l-2.8,1.3z" fill="#1c3560"/>
<path d="M236.10,388.90 l2.8,1.3 l-2.8,1.3z" fill="#1c3560"/>
<path d="M271.20,392.30 l2.8,1.3 l-2.8,1.3z" fill="#1c3560"/>
<path d="M306.30,384.90 l2.8,1.3 l-2.8,1.3z" fill="#1c3560"/>
<path d="M341.40,380.20 l2.8,1.3 l-2.8,1.3z" fill="#1c3560"/>
<path d="M376.50,400.20 l2.8,1.3 l-2.8,1.3z" fill="#1c3560"/>
<path d="M411.60,381.40 l2.8,1.3 l-2.8,1.3z" fill="#1c3560"/>
<path d="M446.70,393.70 l2.8,1.3 l-2.8,1.3z" fill="#1c3560"/>
<text transform="translate(86.10,279.0) rotate(-90)" text-anchor="end" class="nl" fill="#c23a55" stroke="#c23a55" textLength="22.0" lengthAdjust="spacingAndGlyphs">n = 31</text>
<text transform="translate(99.90,279.0) rotate(-90)" text-anchor="end" class="nl" fill="#3f6491" stroke="#3f6491" textLength="22.0" lengthAdjust="spacingAndGlyphs">n = 24</text>
<text transform="translate(121.20,279.0) rotate(-90)" text-anchor="end" class="nl" fill="#c23a55" stroke="#c23a55" textLength="22.0" lengthAdjust="spacingAndGlyphs">n = 26</text>
<text transform="translate(135.00,279.0) rotate(-90)" text-anchor="end" class="nl" fill="#3f6491" stroke="#3f6491" textLength="22.0" lengthAdjust="spacingAndGlyphs">n = 22</text>
<text transform="translate(156.30,279.0) rotate(-90)" text-anchor="end" class="nl" fill="#c23a55" stroke="#c23a55" textLength="22.0" lengthAdjust="spacingAndGlyphs">n = 21</text>
<text transform="translate(170.10,279.0) rotate(-90)" text-anchor="end" class="nl" fill="#3f6491" stroke="#3f6491" textLength="22.0" lengthAdjust="spacingAndGlyphs">n = 21</text>
<text transform="translate(191.40,279.0) rotate(-90)" text-anchor="end" class="nl" fill="#c23a55" stroke="#c23a55" textLength="22.0" lengthAdjust="spacingAndGlyphs">n = 20</text>
<text transform="translate(205.20,279.0) rotate(-90)" text-anchor="end" class="nl" fill="#3f6491" stroke="#3f6491" textLength="22.0" lengthAdjust="spacingAndGlyphs">n = 16</text>
<text transform="translate(226.50,279.0) rotate(-90)" text-anchor="end" class="nl" fill="#c23a55" stroke="#c23a55" textLength="22.0" lengthAdjust="spacingAndGlyphs">n = 18</text>
<text transform="translate(240.30,279.0) rotate(-90)" text-anchor="end" class="nl" fill="#3f6491" stroke="#3f6491" textLength="22.0" lengthAdjust="spacingAndGlyphs">n = 13</text>
<text transform="translate(261.60,279.0) rotate(-90)" text-anchor="end" class="nl" fill="#c23a55" stroke="#c23a55" textLength="22.0" lengthAdjust="spacingAndGlyphs">n = 14</text>
<text transform="translate(275.40,279.0) rotate(-90)" text-anchor="end" class="nl" fill="#3f6491" stroke="#3f6491" textLength="22.0" lengthAdjust="spacingAndGlyphs">n = 12</text>
<text transform="translate(296.70,279.0) rotate(-90)" text-anchor="end" class="nl" fill="#c23a55" stroke="#c23a55" textLength="22.0" lengthAdjust="spacingAndGlyphs">n = 14</text>
<text transform="translate(310.50,279.0) rotate(-90)" text-anchor="end" class="nl" fill="#3f6491" stroke="#3f6491" textLength="22.0" lengthAdjust="spacingAndGlyphs">n = 10</text>
<text transform="translate(331.80,279.0) rotate(-90)" text-anchor="end" class="nl" fill="#c23a55" stroke="#c23a55" textLength="22.0" lengthAdjust="spacingAndGlyphs">n = 12</text>
<text transform="translate(345.60,279.0) rotate(-90)" text-anchor="end" class="nl" fill="#3f6491" stroke="#3f6491" textLength="17.6" lengthAdjust="spacingAndGlyphs">n = 8</text>
<text transform="translate(366.90,279.0) rotate(-90)" text-anchor="end" class="nl" fill="#c23a55" stroke="#c23a55" textLength="22.0" lengthAdjust="spacingAndGlyphs">n = 11</text>
<text transform="translate(380.70,279.0) rotate(-90)" text-anchor="end" class="nl" fill="#3f6491" stroke="#3f6491" textLength="17.6" lengthAdjust="spacingAndGlyphs">n = 6</text>
<text transform="translate(402.00,279.0) rotate(-90)" text-anchor="end" class="nl" fill="#c23a55" stroke="#c23a55" textLength="17.6" lengthAdjust="spacingAndGlyphs">n = 8</text>
<text transform="translate(415.80,279.0) rotate(-90)" text-anchor="end" class="nl" fill="#3f6491" stroke="#3f6491" textLength="17.6" lengthAdjust="spacingAndGlyphs">n = 5</text>
<text transform="translate(437.10,279.0) rotate(-90)" text-anchor="end" class="nl" fill="#c23a55" stroke="#c23a55" textLength="17.6" lengthAdjust="spacingAndGlyphs">n = 7</text>
<text transform="translate(450.90,279.0) rotate(-90)" text-anchor="end" class="nl" fill="#3f6491" stroke="#3f6491" textLength="17.6" lengthAdjust="spacingAndGlyphs">n = 3</text>
<text transform="translate(25.3,365.70) rotate(-90)" text-anchor="middle" class="at" textLength="55" lengthAdjust="spacingAndGlyphs">Height velocity SDS</text>
<text transform="translate(505.6,365.70) rotate(90)" text-anchor="middle" class="at" textLength="55" lengthAdjust="spacingAndGlyphs">Height velocity SDS</text>
<text x="265.6" y="499.8" text-anchor="middle" class="at" textLength="40.4" lengthAdjust="spacingAndGlyphs">Time windows</text>
<text x="150.5" y="517.2" class="lg">Cohort</text>
<path d="M180.8,514.4 H216.2" stroke="#b02844" stroke-width="1.3"/>
<path d="M180.5,525.6 H215.6" stroke="#243a58" stroke-width="1.1" stroke-dasharray="2.7 3.1" stroke-dashoffset="1"/>
<text x="219.5" y="517.2" class="lg" textLength="160" lengthAdjust="spacingAndGlyphs">Imatinib/dasatinib resistant/intolerant Ph+ CML−CP</text>
<text x="219.5" y="527.7" class="lg" textLength="99.3" lengthAdjust="spacingAndGlyphs">Newly diagnosed Ph+ CML−CP</text>
<rect x="0.5" y="0.5" width="519" height="535" fill="none" stroke="#666" stroke-width="1"/>
</svg>
</body></html>
